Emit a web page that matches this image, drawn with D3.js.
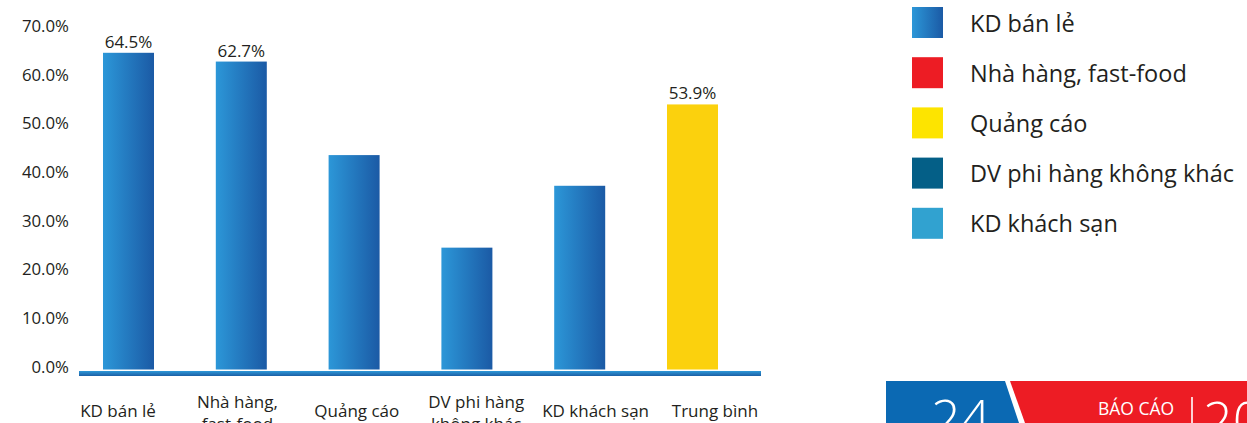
<!DOCTYPE html>
<html>
<head>
<meta charset="utf-8">
<script src="https://cdn.jsdelivr.net/npm/d3@7"></script>
<style>
  html, body { margin: 0; padding: 0; background: #fff; overflow: hidden; }
  text { font-family: "Open Sans", "Noto Sans", sans-serif; fill: #231f20; }
</style>
</head>
<body>
<script>
// chart data
const categories = ["KD bán lẻ", "Nhà hàng, fast-food", "Quảng cáo", "DV phi hàng không khác", "KD khách sạn", "Trung bình"];
const labelLines = [["KD bán lẻ"], ["Nhà hàng,", "fast-food"], ["Quảng cáo"], ["DV phi hàng", "không khác"], ["KD khách sạn"], ["Trung bình"]];
const values = [64.5, 62.7, 43.5, 24.5, 37.2, 53.9];
const shownLabels = [true, true, false, false, false, true];
const yTicks = [0, 10, 20, 30, 40, 50, 60, 70];
const legendItems = ["KD bán lẻ", "Nhà hàng, fast-food", "Quảng cáo", "DV phi hàng không khác", "KD khách sạn"];
const legendColors = ["url(#barGrad)", "#ed1c24", "#fde400", "#045f87", "#31a2d0"];

const W = 1247, H = 423;

const svg = d3.select("body").append("svg")
    .attr("width", W)
    .attr("height", H);

const defs = svg.append("defs");
const barGrad = defs.append("linearGradient").attr("id", "barGrad")
    .attr("x1", "0%").attr("x2", "100%").attr("y1", "0%").attr("y2", "0%");
barGrad.append("stop").attr("offset", "0%").attr("stop-color", "#2c97d8");
barGrad.append("stop").attr("offset", "100%").attr("stop-color", "#1b5aa5");

const baseGrad = defs.append("linearGradient").attr("id", "baseGrad")
    .attr("x1", "0%").attr("x2", "0%").attr("y1", "0%").attr("y2", "100%");
baseGrad.append("stop").attr("offset", "0%").attr("stop-color", "#2e98d8");
baseGrad.append("stop").attr("offset", "100%").attr("stop-color", "#1c5fa5");

// scales
const x = d3.scalePoint().domain(categories).range([128.5, 692.5]);
const xLabel = d3.scalePoint().domain(categories).range([118, 715]);
const y = d3.scaleLinear().domain([0, 70]).range([367, 26]);
const barW = 51;

// y axis labels
const yAxis = svg.append("g")
    .attr("transform", "translate(69,0)")
    .call(d3.axisLeft(y).tickValues(yTicks).tickSize(0).tickPadding(0)
        .tickFormat(d => d3.format(".1%")(d / 100)));
yAxis.select(".domain").remove();
yAxis.selectAll("text")
    .style("font-family", "'Open Sans', sans-serif")
    .style("font-size", "16.8px")
    .style("fill", "#231f20");

// bars
svg.append("g").selectAll("rect")
    .data(categories)
    .join("rect")
    .attr("x", d => x(d) - barW / 2)
    .attr("y", (d, i) => y(values[i]))
    .attr("width", barW)
    .attr("height", (d, i) => y(0) + 2.5 - y(values[i]))
    .attr("fill", (d, i) => i === categories.length - 1 ? "#fbd10d" : "url(#barGrad)");

// value labels
svg.append("g").selectAll("text")
    .data(categories.filter((d, i) => shownLabels[i]))
    .join("text")
    .attr("x", d => x(d))
    .attr("y", d => y(values[categories.indexOf(d)]) - 5)
    .attr("text-anchor", "middle")
    .style("font-size", "17px")
    .text(d => values[categories.indexOf(d)].toFixed(1) + "%");

// baseline
svg.append("rect")
    .attr("x", 79).attr("y", y(0) + 4)
    .attr("width", 682).attr("height", 5)
    .attr("fill", "url(#baseGrad)");

// category labels
const catG = svg.append("g").selectAll("text")
    .data(categories)
    .join("text")
    .attr("text-anchor", "middle")
    .style("font-size", "17px");
catG.each(function(d, i) {
    const lines = labelLines[i];
    d3.select(this).selectAll("tspan")
        .data(lines)
        .join("tspan")
        .attr("x", xLabel(d))
        .attr("y", (l, j) => 417 - (lines.length - 1) * 9 + j * 22)
        .text(l => l);
});

// legend
const legend = svg.append("g").attr("transform", "translate(912,7)");
const li = legend.selectAll("g")
    .data(legendItems)
    .join("g")
    .attr("transform", (d, i) => `translate(0,${i * 50.2})`);
li.append("rect")
    .attr("width", 31).attr("height", 31)
    .attr("fill", (d, i) => legendColors[i]);
li.append("text")
    .attr("x", 58).attr("y", 24.5)
    .style("font-size", "23.5px")
    .text(d => d);

// page footer band
const footer = svg.append("g");
footer.append("polygon")
    .attr("points", "886,381 1005,381 1019,423 886,423")
    .attr("fill", "#0b69b3");
footer.append("polygon")
    .attr("points", "1010,381 1247,381 1247,423 1025,423")
    .attr("fill", "#ed1c24");
footer.append("text")
    .attr("x", 931).attr("y", 437)
    .style("font-size", "52px").style("font-weight", 300)
    .style("fill", "#fff")
    .text("24");
footer.append("text")
    .attr("x", 1098).attr("y", 415)
    .style("font-size", "17.5px")
    .style("fill", "#fff")
    .text("BÁO CÁO");
footer.append("line")
    .attr("x1", 1192).attr("x2", 1192).attr("y1", 397).attr("y2", 423)
    .attr("stroke", "#fff").attr("stroke-width", 1.6);
footer.append("text")
    .attr("x", 1203).attr("y", 439)
    .style("font-size", "52px").style("font-weight", 300)
    .style("fill", "#fff")
    .text("20");
</script>
</body>
</html>
